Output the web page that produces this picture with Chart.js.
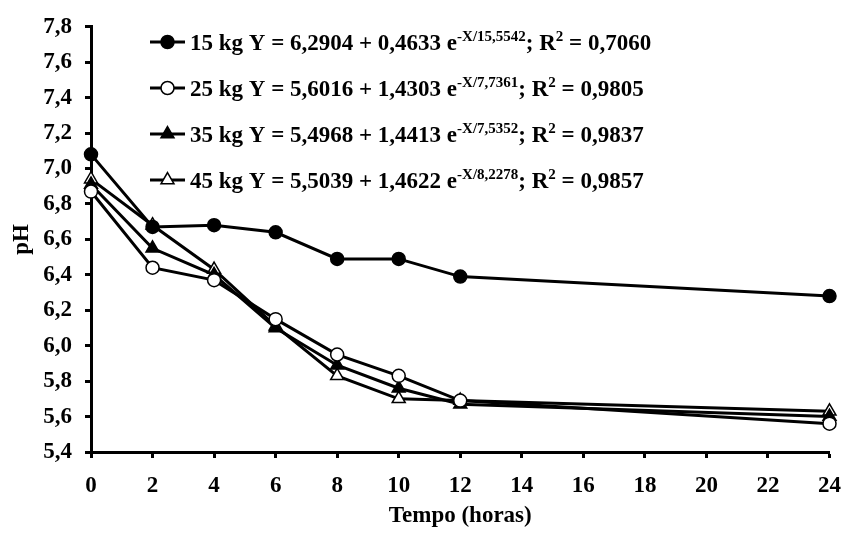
<!DOCTYPE html>
<html>
<head>
<meta charset="utf-8">
<script src="https://cdn.jsdelivr.net/npm/chart.js@4"></script>
<style>
  body { margin: 0; background: #fff; }
  #wrap { width: 855px; height: 541px; }
</style>
</head>
<body>
<div id="wrap"><canvas id="ph-chart" width="855" height="541"></canvas></div>
<script>
// horas de fermentação
const hours = [0, 2, 4, 6, 8, 10, 12, 24];
const ph15 = [7.08, 6.67, 6.68, 6.64, 6.49, 6.49, 6.39, 6.28];
const ph25 = [6.87, 6.44, 6.37, 6.15, 5.95, 5.83, 5.69, 5.56];
const ph35 = [6.91, 6.55, 6.40, 6.10, 5.89, 5.76, 5.67, 5.60];
const ph45 = [6.94, 6.68, 6.43, 6.11, 5.83, 5.70, 5.69, 5.63];

const seriesNames = ['15 kg', '25 kg', '35 kg', '45 kg'];
const eqIntercept = ['6,2904', '5,6016', '5,4968', '5,5039'];
const eqCoef = ['0,4633', '1,4303', '1,4413', '1,4622'];
const eqTau = ['15,5542', '7,7361', '7,5352', '8,2278'];
const eqR2 = ['0,7060', '0,9805', '0,9837', '0,9857'];

const FONT = '"Liberation Serif", "Times New Roman", serif';
const FS = 23;

function toPoints(values) {
  return hours.map((h, i) => ({ x: h, y: values[i] }));
}

function series(label, values, style, fill, radius) {
  return {
    label: label,
    data: toPoints(values),
    borderColor: '#000',
    borderWidth: 3,
    tension: 0,
    pointStyle: style,
    pointRadius: radius,
    pointBackgroundColor: fill,
    pointBorderColor: '#000',
    pointBorderWidth: 1.5,
    clip: false
  };
}

// legenda com equações (sobrescritos desenhados à mão)
const eqLegend = {
  id: 'eqLegend',
  afterDraw(chart) {
    const ctx = chart.ctx;
    const ds = chart.data.datasets;
    ctx.save();
    ctx.textBaseline = 'alphabetic';
    ctx.textAlign = 'left';
    for (let i = 0; i < ds.length; i++) {
      const yc = 42 + i * 46;
      ctx.strokeStyle = '#000';
      ctx.lineWidth = 3;
      ctx.beginPath();
      ctx.moveTo(150, yc);
      ctx.lineTo(185, yc);
      ctx.stroke();
      ctx.lineWidth = 1.5;
      ctx.fillStyle = ds[i].pointBackgroundColor;
      Chart.helpers.drawPoint(ctx, {
        pointStyle: ds[i].pointStyle,
        radius: ds[i].pointRadius,
        borderWidth: 1.5,
        rotation: 0
      }, 167.5, yc);
      ctx.fillStyle = '#000';

      const base = yc + 8;
      const big = 'bold ' + FS + 'px ' + FONT;
      const small = 'bold 15px ' + FONT;
      const parts = [
        [seriesNames[i] + ' Y = ' + eqIntercept[i] + ' + ' + eqCoef[i] + ' e', big, 0],
        ['-X/' + eqTau[i], small, -9],
        ['; R', big, 0],
        ['2', small, -9],
        [' = ' + eqR2[i], big, 0]
      ];
      let x = 190;
      parts.forEach(p => {
        ctx.font = p[1];
        ctx.fillText(p[0], x, base + p[2]);
        x += ctx.measureText(p[0]).width;
      });
    }
    ctx.restore();
  }
};

new Chart(document.getElementById('ph-chart'), {
  type: 'line',
  data: {
    datasets: [
      series('15 kg', ph15, 'circle', '#000', 6.5),
      series('25 kg', ph25, 'circle', '#fff', 6.5),
      series('35 kg', ph35, 'triangle', '#000', 7.5),
      series('45 kg', ph45, 'triangle', '#fff', 7.5)
    ]
  },
  options: {
    responsive: false,
    animation: false,
    devicePixelRatio: 1,
    layout: { padding: { left: 0, right: 12, top: 21, bottom: 0 } },
    plugins: {
      legend: { display: false },
      tooltip: { enabled: false }
    },
    scales: {
      x: {
        type: 'linear',
        min: 0,
        max: 24,
        afterFit(scale) { scale.height = 89; },
        ticks: {
          stepSize: 2,
          color: '#000',
          padding: 14,
          maxRotation: 0,
          font: { family: FONT, size: FS, weight: 'bold' }
        },
        grid: {
          drawOnChartArea: false,
          tickLength: 6,
          tickWidth: 3,
          tickColor: '#000'
        },
        border: { display: true, color: '#000', width: 3 },
        title: {
          display: true,
          text: 'Tempo (horas)',
          color: '#000',
          padding: { top: 0, bottom: 11 },
          font: { family: FONT, size: FS, weight: 'bold' }
        }
      },
      y: {
        min: 5.4,
        max: 7.8,
        afterFit(scale) { scale.width = 91; },
        ticks: {
          stepSize: 0.2,
          color: '#000',
          padding: 13,
          font: { family: FONT, size: FS, weight: 'bold' },
          callback: v => v.toFixed(1).replace('.', ',')
        },
        grid: {
          drawOnChartArea: false,
          tickLength: 6,
          tickWidth: 3,
          tickColor: '#000'
        },
        border: { display: true, color: '#000', width: 3 },
        title: {
          display: true,
          text: 'pH',
          color: '#000',
          padding: { top: 8, bottom: 0 },
          font: { family: FONT, size: FS, weight: 'bold' }
        }
      }
    }
  },
  plugins: [eqLegend]
});
</script>
</body>
</html>
